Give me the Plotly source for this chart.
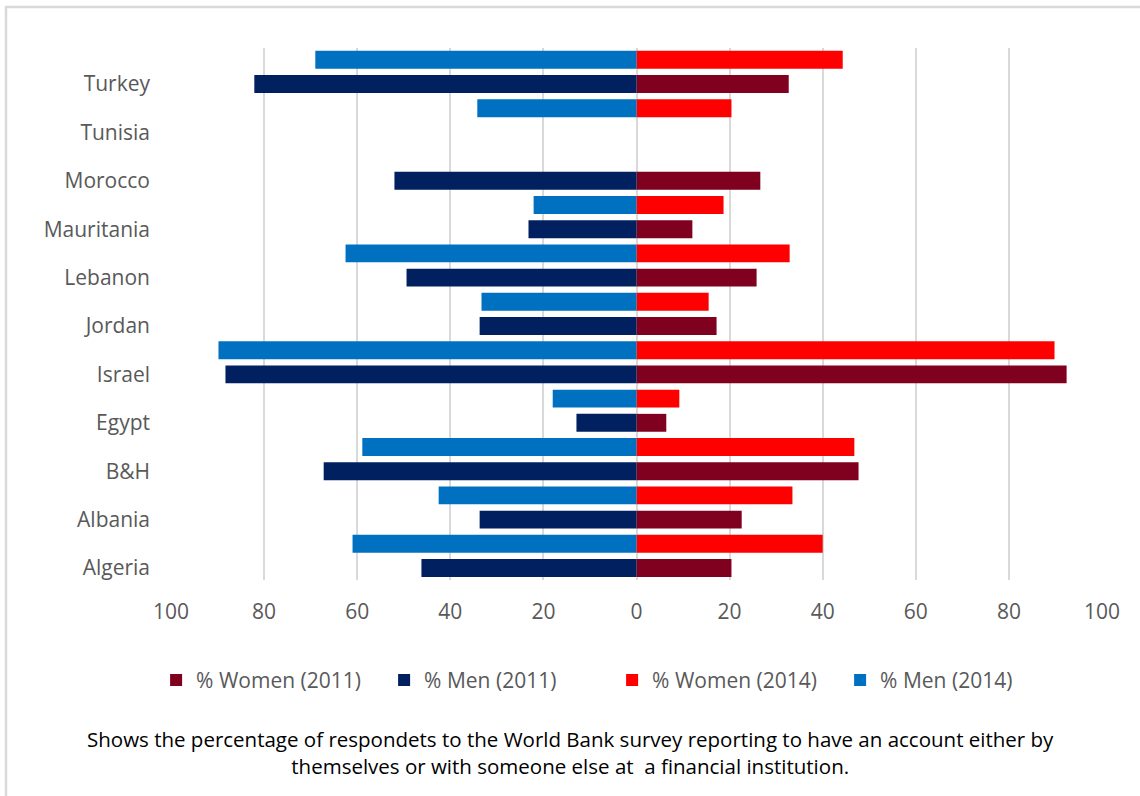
import plotly.graph_objects as go

# Survey data: share of respondents with an account at a financial institution
countries = ["Algeria", "Albania", "B&H", "Egypt", "Israel", "Jordan",
             "Lebanon", "Mauritania", "Morocco", "Tunisia", "Turkey"]
women_2011 = [20.4, 22.6, 47.7, 6.4, 92.4, 17.2, 25.8, 12.0, 26.6, None, 32.7]
men_2011 = [46.2, 33.7, 67.2, 12.9, 88.3, 33.7, 49.4, 23.2, 52.0, None, 82.1]
women_2014 = [40.0, 33.5, 46.8, 9.2, 89.8, 15.5, 32.9, 18.7, None, 20.4, 44.3]
men_2014 = [61.0, 42.5, 58.9, 18.0, 89.8, 33.3, 62.5, 22.1, None, 34.2, 69.0]

x_ticks = [-100, -80, -60, -40, -20, 0, 20, 40, 60, 80, 100]
x_tick_text = [str(abs(v)) for v in x_ticks]

caption = ("Shows the percentage of respondets to the World Bank survey reporting to have an account either by<br>"
           "themselves or with someone else at  a financial institution.")

FONT = "Open Sans"
BAR_W = 0.37


def neg(vals):
    return [None if v is None else -v for v in vals]


series = [
    ("% Women (2011)", women_2011, women_2011, "#80001F", -BAR_W / 2),
    ("% Men (2011)", neg(men_2011), men_2011, "#002060", -BAR_W / 2),
    ("% Women (2014)", women_2014, women_2014, "#FF0000", 0.5 - BAR_W / 2),
    ("% Men (2014)", neg(men_2014), men_2014, "#0070C0", 0.5 - BAR_W / 2),
]

fig = go.Figure()
for name, xs, raw, color, off in series:
    fig.add_trace(go.Bar(
        y=countries, x=xs, name=name, orientation="h",
        width=BAR_W, offset=off,
        marker=dict(color=color, line=dict(width=0)),
        customdata=raw,
        hovertemplate="%{y}: %{customdata}%<extra>" + name + "</extra>",
    ))

fig.update_layout(
    width=1140, height=796,
    paper_bgcolor="white", plot_bgcolor="white",
    margin=dict(l=171, r=38, t=48, b=216, autoexpand=False),
    barmode="overlay",
    font=dict(family=FONT, size=21, color="#595959"),
    showlegend=True,
    legend=dict(orientation="h", x=-0.016, xanchor="left", y=-0.15, yanchor="top",
                font=dict(size=21, color="#595959"), traceorder="normal",
                itemwidth=30, entrywidth=183, entrywidthmode="pixels",
                bgcolor="rgba(0,0,0,0)"),
    xaxis=dict(range=[-100, 100], tickvals=x_ticks, ticktext=x_tick_text,
               showgrid=True, gridcolor="#D9D9D9", gridwidth=1.5,
               zeroline=False, showline=False, ticks="",
               ticklabelstandoff=17, fixedrange=True),
    yaxis=dict(range=[-0.248, 10.744], showgrid=False, zeroline=False,
               showline=False, ticks="", ticklabelstandoff=20,
               categoryorder="array", categoryarray=countries),
    annotations=[dict(text=caption, xref="paper", yref="paper",
                      x=(570 - 171) / 931, y=-(752 - 580) / 532,
                      xanchor="center", yanchor="middle", showarrow=False,
                      align="center", font=dict(family=FONT, size=20.5, color="black"))],
    shapes=[dict(type="rect", xref="paper", yref="paper",
                 x0=(6 - 171) / 931, x1=(1150 - 171) / 931,
                 y0=(580 - 806) / 532, y1=(580 - 7) / 532,
                 line=dict(color="#D9D9D9", width=2.5), fillcolor="rgba(0,0,0,0)",
                 layer="below")],
)

fig.write_html("out.html")
